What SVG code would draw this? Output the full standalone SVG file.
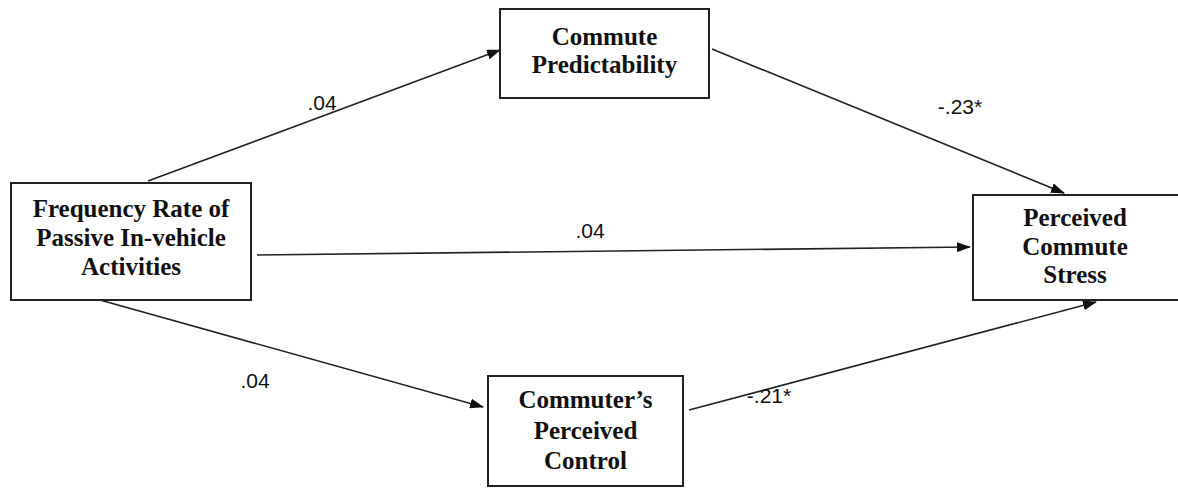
<svg xmlns="http://www.w3.org/2000/svg" width="1178" height="488" viewBox="0 0 1178 488">
<style>
.box{fill:#fff;stroke:#222;stroke-width:2}
.t{font-family:"Liberation Serif","Times New Roman",serif;font-weight:bold;font-size:25px;fill:#111;text-anchor:middle}
.lbl{font-family:"Liberation Sans",Arial,sans-serif;font-size:21px;fill:#111;text-anchor:middle}
.c{stroke:#222;stroke-width:1.6;fill:none;marker-end:url(#ah)}
</style>
<defs>
<marker id="ah" markerWidth="14" markerHeight="10" refX="13" refY="5" orient="auto" markerUnits="userSpaceOnUse">
<path d="M0,0 L14,5 L0,10 Z" fill="#111"/>
</marker>
</defs>
<rect width="1178" height="488" fill="#fff"/>
<g id="connectors">
<line class="c" x1="148" y1="181" x2="500" y2="50"/>
<line class="c" x1="712" y1="49" x2="1064" y2="193"/>
<line class="c" x1="257" y1="255" x2="970" y2="247"/>
<line class="c" x1="100" y1="300" x2="483" y2="407"/>
<line class="c" x1="689" y1="410" x2="1096" y2="302"/>
<text class="lbl" x="322" y="110">.04</text>
<text class="lbl" x="960" y="114">-.23*</text>
<text class="lbl" x="590" y="238">.04</text>
<text class="lbl" x="255" y="388">.04</text>
<text class="lbl" x="769" y="403">-.21*</text>
</g>
<g id="node-frequency">
<rect class="box" x="11" y="183" width="240" height="117"/>
<text class="t" x="131" y="217">Frequency Rate of</text>
<text class="t" x="131" y="246">Passive In-vehicle</text>
<text class="t" x="131" y="275">Activities</text>
</g>
<g id="node-predictability">
<rect class="box" x="500" y="9" width="209" height="89"/>
<text class="t" x="604.5" y="45">Commute</text>
<text class="t" x="604.5" y="73">Predictability</text>
</g>
<g id="node-stress">
<rect class="box" x="973" y="195" width="210" height="105"/>
<text class="t" x="1075" y="226">Perceived</text>
<text class="t" x="1075" y="255">Commute</text>
<text class="t" x="1075" y="283">Stress</text>
</g>
<g id="node-control">
<rect class="box" x="488" y="376" width="195" height="110"/>
<text class="t" x="585.5" y="408">Commuter’s</text>
<text class="t" x="585.5" y="439">Perceived</text>
<text class="t" x="585.5" y="469">Control</text>
</g>
</svg>
